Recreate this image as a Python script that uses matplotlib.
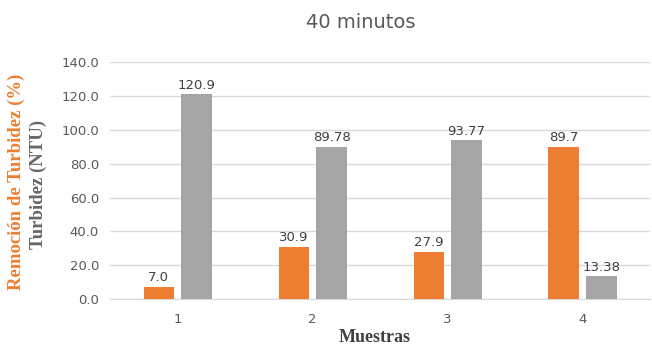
import numpy as np
import matplotlib
matplotlib.use("Agg")
import matplotlib.pyplot as plt

# datos del ensayo a 40 minutos
muestras = ["1", "2", "3", "4"]
remocion = [7.0, 30.9, 27.9, 89.7]          # Remoción de Turbidez (%)
turbidez = [120.9, 89.78, 93.77, 13.38]     # Turbidez (NTU)
etiq_remocion = ["7.0", "30.9", "27.9", "89.7"]
etiq_turbidez = ["120.9", "89.78", "93.77", "13.38"]

naranja = "#ED7D31"
gris = "#A5A5A5"
texto = "#595959"

fig = plt.figure(figsize=(6.52, 3.47), dpi=100)
ax = fig.add_axes([0.169, 0.138, 0.828, 0.683])

x = np.arange(len(muestras))
ancho = 0.225
desp = 0.14
b1 = ax.bar(x - desp, remocion, ancho, color=naranja, zorder=3)
b2 = ax.bar(x + desp, turbidez, ancho, color=gris, zorder=3)

for barras, etiquetas in ((b1, etiq_remocion), (b2, etiq_turbidez)):
    for b, t in zip(barras, etiquetas):
        ax.annotate(t, (b.get_x() + b.get_width() / 2, b.get_height()),
                    xytext=(0, 2), textcoords="offset points",
                    ha="center", va="bottom", fontsize=9.5, color="#404040")

ax.set_xlim(-0.5, 3.5)
ax.set_ylim(0, 140)
ax.set_yticks(np.arange(0, 141, 20))
ax.set_yticklabels(["%.1f" % v for v in np.arange(0, 141, 20)])
ax.set_xticks(x)
ax.set_xticklabels(muestras)
ax.tick_params(axis="both", length=0, labelsize=9.5, colors=texto)
ax.tick_params(axis="x", pad=10)
ax.tick_params(axis="y", pad=8)
ax.grid(axis="y", color="#D9D9D9", linewidth=1, zorder=0)
for s in ["top", "right", "left"]:
    ax.spines[s].set_visible(False)
ax.spines["bottom"].set_color("#D9D9D9")

fig.text(361 / 652, 1 - 22 / 347, "40 minutos", ha="center", va="center",
         fontsize=14, color=texto)
fig.text(375 / 652, 1 - 337 / 347, "Muestras", ha="center", va="center",
         fontsize=13, fontweight="bold", family="Liberation Serif", color="#404040")
fig.text(16 / 652, 1 - 182 / 347, "Remoción de Turbidez (%)", rotation=90,
         ha="center", va="center", fontsize=13.5, fontweight="bold",
         family="Liberation Serif", color=naranja)
fig.text(38 / 652, 1 - 184 / 347, "Turbidez (NTU)", rotation=90,
         ha="center", va="center", fontsize=13.5, fontweight="bold",
         family="Liberation Serif", color="#666666")

fig.savefig("out.png", dpi=100)
